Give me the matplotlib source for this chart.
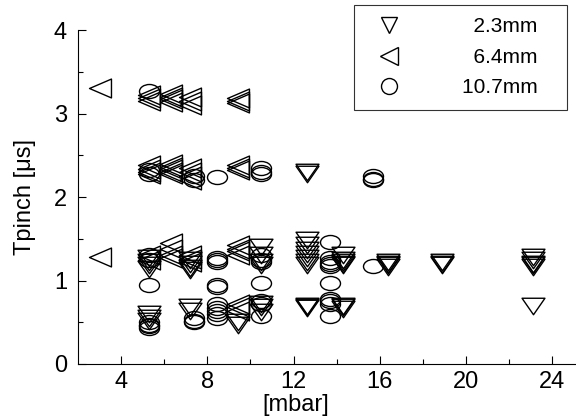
import numpy as np
import matplotlib.pyplot as plt
from matplotlib.path import Path
from matplotlib.transforms import Affine2D
from matplotlib.lines import Line2D

plt.rcParams['font.family'] = ['Liberation Sans', 'DejaVu Sans']

# ---------------------------------
# data (pressure in mbar, Tpinch in us)
# ---------------------------------
p_23 = [5.3, 5.3, 5.3, 5.3, 5.3, 5.3, 5.3,
        7.2, 7.2, 7.2, 7.2, 7.2, 7.2,
        9.4, 9.4,
        10.5, 10.5, 10.5, 10.5, 10.5, 10.5, 10.5,
        12.6, 12.6, 12.6, 12.6, 12.6, 12.6, 12.6, 12.6, 12.6, 12.6, 12.6, 12.6,
        14.3, 14.3, 14.3, 14.3, 14.3, 14.3, 14.3, 14.3,
        16.4, 16.4, 16.4, 16.4,
        18.9, 18.9, 18.9,
        23.1, 23.1, 23.1, 23.1, 23.1, 23.1]
t_23 = [1.27, 1.22, 1.18, 1.14, 0.60, 0.55, 0.52,
        1.25, 1.20, 1.15, 1.12, 0.68, 0.64,
        0.50, 0.47,
        1.40, 1.30, 1.22, 1.18, 0.72, 0.68, 0.62,
        1.48, 1.42, 1.37, 1.32, 1.27, 1.22, 1.18, 2.30, 2.27, 0.70, 0.68, 0.67,
        1.30, 1.25, 1.22, 1.20, 1.18, 0.70, 0.68, 0.66,
        1.22, 1.20, 1.18, 1.16,
        1.22, 1.20, 1.18,
        1.28, 1.24, 1.20, 1.18, 1.16, 0.70]

p_64 = [3.0, 3.0,
        5.3, 5.3, 5.3, 5.3, 5.3, 5.3, 5.3, 5.3, 5.3,
        6.3, 6.3, 6.3, 6.3, 6.3, 6.3, 6.3, 6.3, 6.3, 6.3, 6.3, 6.3, 6.3,
        7.2, 7.2, 7.2, 7.2, 7.2, 7.2, 7.2, 7.2, 7.2, 7.2,
        9.4, 9.4, 9.4, 9.4, 9.4, 9.4, 9.4, 9.4, 9.4, 9.4, 9.4, 9.4, 9.4]
t_64 = [3.30, 1.28,
        3.22, 3.18, 3.15, 2.38, 2.34, 2.30, 2.27, 1.30, 1.25,
        3.23, 3.20, 3.17, 3.14, 2.40, 2.36, 2.33, 2.30, 2.27, 1.45, 1.38, 1.30, 1.27,
        3.20, 3.15, 3.10, 2.35, 2.30, 2.25, 2.20, 1.30, 1.26, 1.22,
        3.18, 3.15, 3.12, 2.38, 2.35, 2.32, 1.42, 1.38, 1.35, 1.30, 0.72, 0.68, 0.64]

p_107 = [5.3, 5.3, 5.3, 5.3, 5.3, 5.3, 5.3, 5.3, 5.3, 5.3,
         7.4, 7.4, 7.4, 7.4, 7.4,
         8.45, 8.45, 8.45, 8.45, 8.45, 8.45, 8.45, 8.45, 8.45, 8.45, 8.45,
         10.5, 10.5, 10.5, 10.5, 10.5, 10.5, 10.5, 10.5, 10.5, 10.5,
         13.7, 13.7, 13.7, 13.7, 13.7, 13.7, 13.7, 13.7, 13.7, 13.7,
         15.7, 15.7, 15.7, 15.7]
t_107 = [3.27, 2.32, 2.28, 1.30, 1.25, 0.95, 0.50, 0.47, 0.45, 0.43,
         2.25, 2.20, 0.55, 0.52, 0.50,
         2.24, 1.27, 1.25, 1.22, 0.95, 0.92, 0.72, 0.67, 0.63, 0.60, 0.55,
         2.35, 2.30, 2.27, 1.30, 1.25, 1.22, 0.97, 0.75, 0.72, 0.57,
         1.46, 1.27, 1.22, 1.20, 1.17, 0.97, 0.78, 0.75, 0.72, 0.57,
         2.25, 2.22, 2.20, 1.17]

labels = ["  2.3mm", "  6.4mm", "10.7mm"]

# squashed marker shapes (the plot was stretched sideways)
m_down = Path([(-1, 0.72), (1, 0.72), (0, -0.72), (-1, 0.72)], closed=True)
m_left = Path([(-1, 0), (1, 0.86), (1, -0.86), (-1, 0)], closed=True)
m_oval = Path.unit_circle().transformed(Affine2D().scale(1, 0.7))

fig = plt.figure(figsize=(5.76, 4.2), dpi=100)
ax = fig.add_axes([78/576, 1 - 364/420, 1 - 78/576, 334/420])

style = dict(linestyle='none', markerfacecolor='none', markeredgecolor='black',
             markeredgewidth=1.0)
ax.plot(p_23, t_23, marker=m_down, markersize=16.5, **style)
ax.plot(p_64, t_64, marker=m_left, markersize=15.8, **style)
ax.plot(p_107, t_107, marker=m_oval, markersize=14.4, **style)

ax.set_xlim(2, 25.1)
ax.set_ylim(0, 4)
ax.set_xticks([4, 8, 12, 16, 20, 24])
ax.set_xticks([6, 10, 14, 18, 22], minor=True)
ax.set_yticks([0, 1, 2, 3, 4])
ax.set_yticks([0.5, 1.5, 2.5, 3.5], minor=True)
ax.tick_params(which='both', direction='in', labelsize=17, width=0.8)
ax.tick_params(which='major', length=6)
ax.tick_params(which='minor', length=3.5)
ax.tick_params(axis='y', pad=8)
ax.tick_params(axis='x', pad=5)
for s in ['top', 'right']:
    ax.spines[s].set_visible(False)
for s in ['left', 'bottom']:
    ax.spines[s].set_linewidth(0.8)

ax.set_xlabel("[mbar]", fontsize=17)
ax.xaxis.set_label_coords(0.438, -0.09)
ax.set_ylabel("Tpinch [\u03bcs]", fontsize=17)
ax.yaxis.set_label_coords(-0.085, 0.5)

handles = [
    Line2D([], [], marker='v', markersize=11, **style),
    Line2D([], [], marker='<', markersize=13, **style),
    Line2D([], [], marker='o', markersize=11.5, **style),
]
leg = fig.legend(handles, [s + "   " for s in labels], loc='upper right',
                 bbox_to_anchor=(567/576, 1 - 5/420), borderaxespad=0,
                 fontsize=15, frameon=True, fancybox=False, edgecolor='black',
                 borderpad=0.6, labelspacing=0.55, handletextpad=2.45,
                 handlelength=2.1)
leg.get_frame().set_linewidth(0.8)

fig.savefig("out.png", dpi=100)
